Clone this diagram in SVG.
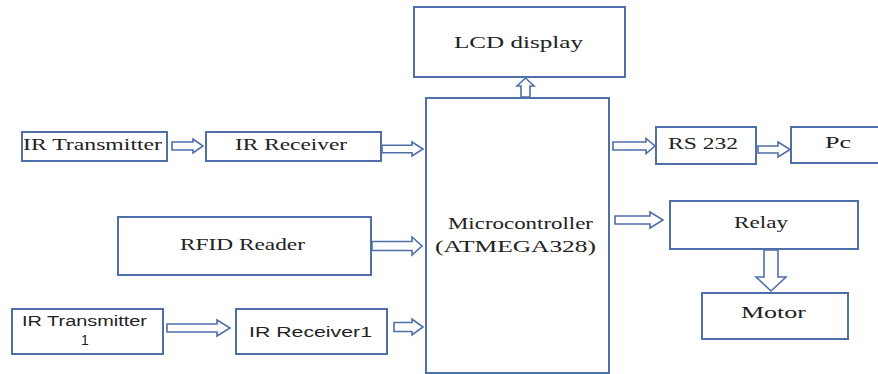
<svg xmlns="http://www.w3.org/2000/svg" width="878" height="374" viewBox="0 0 878 374">
<style>
.box{fill:#fff;stroke:#4f6fa8;stroke-width:2}
.arr{fill:#fff;stroke:#4f6fa8;stroke-width:1.6;stroke-linejoin:miter}
.t{font-family:"Liberation Serif","Times New Roman",serif;font-size:17px;fill:#222}
.s{font-family:"Liberation Sans",Arial,sans-serif;font-size:14px;fill:#222}
</style>
<rect width="878" height="374" fill="#fff"/>
<g id="connectors">
<polygon class="arr" points="172,142 193,142 193,139 203,146 193,153 193,150 172,150"/>
<polygon class="arr" points="382,145.2 412,145.2 412,142 423,149 412,156 412,152.8 382,152.8"/>
<polygon class="arr" points="372,241.5 412,241.5 412,237 422,246 412,255 412,250.5 372,250.5"/>
<polygon class="arr" points="167,324 217,324 217,320 230,328 217,336 217,332 167,332"/>
<polygon class="arr" points="394,322.5 412,322.5 412,319 423,327 412,335 412,331.5 394,331.5"/>
<polygon class="arr" points="613,142 646,142 646,138.5 655,146 646,153.5 646,150 613,150"/>
<polygon class="arr" points="758,146 778,146 778,142 790,149.5 778,157 778,153 758,153"/>
<polygon class="arr" points="615,216 650,216 650,212 663,220 650,228 650,224 615,224"/>
<polygon class="arr" points="764,250 778,250 778,277 786,277 771,291 756,277 764,277"/>
<polygon class="arr" points="521,97 530,97 530,86 534,86 525.5,78 517,86 521,86"/>
</g>
<g id="lcd"><rect class="box" x="414" y="7" width="211" height="70"/><text class="t" x="454" y="48" textLength="129" lengthAdjust="spacingAndGlyphs">LCD display</text></g>
<g id="micro"><rect class="box" x="426" y="98" width="183" height="275"/><text class="t" x="448" y="229" textLength="145" lengthAdjust="spacingAndGlyphs">Microcontroller</text><text class="t" x="435" y="252" textLength="161" lengthAdjust="spacingAndGlyphs">(ATMEGA328)</text></g>
<g id="irt"><rect class="box" x="22" y="132" width="145" height="29"/><text class="t" x="23" y="150" textLength="139" lengthAdjust="spacingAndGlyphs">IR Transmitter</text></g>
<g id="irr"><rect class="box" x="206" y="132" width="175" height="29"/><text class="t" x="235" y="150" textLength="112" lengthAdjust="spacingAndGlyphs">IR Receiver</text></g>
<g id="rfid"><rect class="box" x="118" y="217" width="253" height="58"/><text class="t" x="180" y="250" textLength="125" lengthAdjust="spacingAndGlyphs">RFID Reader</text></g>
<g id="irt1"><rect class="box" x="12" y="309" width="151" height="45"/><text class="s" x="22" y="326" textLength="125" lengthAdjust="spacingAndGlyphs">IR Transmitter</text><text class="s" x="85" y="345" text-anchor="middle">1</text></g>
<g id="irr1"><rect class="box" x="236" y="309" width="151" height="45"/><text class="s" x="249" y="337" textLength="123" lengthAdjust="spacingAndGlyphs">IR Receiver1</text></g>
<g id="rs232"><rect class="box" x="656" y="127" width="100" height="37"/><text class="t" x="668" y="149" textLength="70" lengthAdjust="spacingAndGlyphs">RS 232</text></g>
<g id="pc"><rect class="box" x="791" y="127" width="95" height="36"/><text class="t" x="825" y="148" textLength="26" lengthAdjust="spacingAndGlyphs">Pc</text></g>
<g id="relay"><rect class="box" x="670" y="201" width="188" height="48"/><text class="t" x="734" y="228" textLength="54" lengthAdjust="spacingAndGlyphs">Relay</text></g>
<g id="motor"><rect class="box" x="702" y="293" width="146" height="46"/><text class="t" x="741" y="318" textLength="65" lengthAdjust="spacingAndGlyphs">Motor</text></g>
</svg>
